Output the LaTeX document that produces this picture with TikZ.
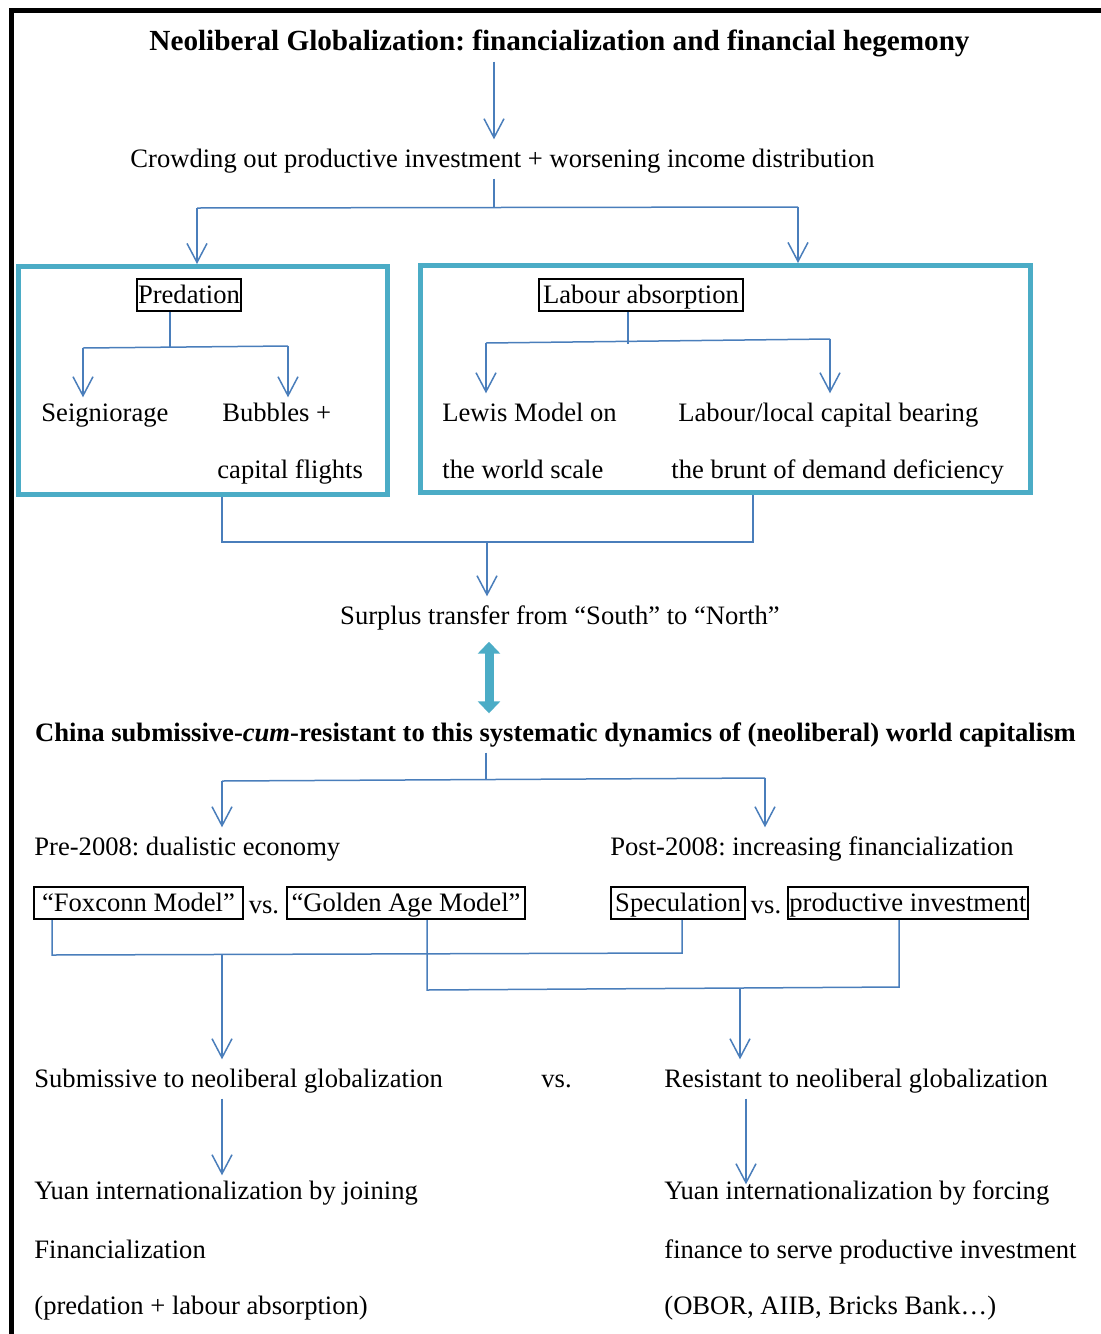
\documentclass[tikz,border=0pt]{standalone}
\usepackage{fontspec}
\setmainfont{Liberation Serif}
\usetikzlibrary{arrows.meta}
\definecolor{linkblue}{HTML}{4A7EBB}
\definecolor{boxcyan}{HTML}{4BACC6}
\newcommand{\diagfont}{\fontsize{13.3}{16}\selectfont}
\frenchspacing

\begin{document}
\begin{tikzpicture}[x=0.5pt, y=-0.5pt,
    every node/.style={font=\diagfont, text height=11pt, text depth=2.3pt, inner xsep=0pt, inner ysep=3pt},
    ltxt/.style={anchor=west},
    boldtxt/.style={font=\diagfont\bfseries},
    tbox/.style={draw, line width=1pt, inner ysep=0pt, minimum height=16pt},
    panel/.style={draw=boxcyan, line width=2.5pt, inner sep=0pt},
    link/.style={draw=linkblue, line width=0.75pt},
    arr/.style={link, ->, >={Straight Barb[length=9.5pt,width=10pt]}},
    dblarr/.style={draw=boxcyan, line width=4.5pt, <->, >={Triangle[length=6pt,width=11pt]}},
    outerframe/.style={line width=2.5pt}]
\useasboundingbox (0,0) rectangle (1101,1334);
\draw[outerframe] (11.5,1345) -- (11.5,10.5) -- (1115,10.5);

% top part
\node[boldtxt, font=\fontsize{14.6}{17}\selectfont\bfseries] (title) at (559.5,42) {Neoliberal Globalization: financialization and financial hegemony};
\node (crowd) at (502.5,159) {Crowding out productive investment + worsening income distribution};

% the two panels
\node[panel, minimum width=184.25pt, minimum height=114pt] (predpanel) at (202.75,380.5) {};
\node[panel, minimum width=305pt, minimum height=113.5pt] (labpanel) at (725,379) {};
\node[tbox, minimum width=52pt] (predbox) at (189,295) {Predation};
\node[tbox, minimum width=102pt] (labbox) at (641,295) {Labour absorption};
\node[ltxt] (seign) at (41,413) {Seigniorage};
\node[ltxt] (bubbles) at (222,413) {Bubbles +};
\node[ltxt] (capfl) at (217,470) {capital flights};
\node[ltxt] (lewis) at (442,413) {Lewis Model on};
\node[ltxt] (worldsc) at (442,470) {the world scale};
\node[ltxt] (labloc) at (678,413) {Labour/local capital bearing};
\node[ltxt] (brunt) at (671,470) {the brunt of demand deficiency};

% middle
\node (surplus) at (560,616) {Surplus transfer from “South” to “North”};
\node[boldtxt] (china) at (555.5,733) {China submissive-\textit{cum}-resistant to this systematic dynamics of (neoliberal) world capitalism};

% China, two periods
\node[ltxt] (pre) at (34,847) {Pre-2008: dualistic economy};
\node[ltxt] (post) at (610,847) {Post-2008: increasing financialization};
\node[tbox, minimum width=104.5pt] (foxbox) at (138.5,903) {“Foxconn Model”};
\node (vsa) at (264,905) {vs.};
\node[tbox, minimum width=119pt] (goldbox) at (406,903) {“Golden Age Model”};
\node[tbox, minimum width=67pt] (specbox) at (678,903) {Speculation};
\node (vsb) at (766,905) {vs.};
\node[tbox, minimum width=120pt] (prodbox) at (908,903) {productive investment};

% bottom
\node[ltxt] (subm) at (34,1079) {Submissive to neoliberal globalization};
\node[ltxt] (vsc) at (541,1079) {vs.};
\node[ltxt] (resist) at (664,1079) {Resistant to neoliberal globalization};
\node[ltxt] (yuanj) at (34,1191) {Yuan internationalization by joining};
\node[ltxt] (finz) at (34,1250) {Financialization};
\node[ltxt] (predlab) at (34,1306) {(predation + labour absorption)};
\node[ltxt] (yuanf) at (664,1191) {Yuan internationalization by forcing};
\node[ltxt] (finserve) at (664,1250) {finance to serve productive investment};
\node[ltxt] (obor) at (664,1306) {(OBOR, AIIB, Bricks Bank…)};

% forks and joins
\coordinate (fk1) at (494,208);
\coordinate (fk1l) at (197,208);
\coordinate (fk1r) at (798,207);
\draw[arr] (title.south -| fk1) -- (crowd.north -| fk1);
\draw[link] (crowd.south -| fk1) -- (fk1);
\draw[link] (fk1l) -- (fk1r);
\draw[arr] (fk1l) -- (predpanel.north -| fk1l);
\draw[arr] (fk1r) -- (labpanel.north -| fk1r);

\coordinate (fk2) at (170,347);
\coordinate (fk2l) at (83,348);
\coordinate (fk2r) at (288,346);
\draw[link] (predbox.south -| fk2) -- (fk2);
\draw[link] (fk2l) -- (fk2r);
\draw[arr, shorten >=-2pt] (fk2l) -- (seign.north -| fk2l);
\draw[arr, shorten >=-2pt] (fk2r) -- (bubbles.north -| fk2r);

\coordinate (fk3) at (628,344);
\coordinate (fk3l) at (486,343);
\coordinate (fk3r) at (830,339);
\draw[link] (labbox.south -| fk3) -- (fk3);
\draw[link] (fk3l) -- (fk3r);
\draw[arr] (fk3l) -- (lewis.north -| fk3l);
\draw[arr] (fk3r) -- (labloc.north -| fk3r);

\coordinate (jn1l) at (222,542);
\coordinate (jn1r) at (753,542);
\coordinate (jn1) at (487,542);
\draw[link] (predpanel.south -| jn1l) -- (jn1l) -- (jn1r) -- (labpanel.south -| jn1r);
\draw[arr] (jn1) -- (surplus.north -| jn1);

\coordinate (dbl) at (489,0);
\draw[dblarr, shorten <=3pt] (surplus.south -| dbl) -- (china.north -| dbl);

\coordinate (fk4) at (486,780);
\coordinate (fk4l) at (222,781);
\coordinate (fk4r) at (765,778);
\draw[link] (china.south -| fk4) -- (fk4);
\draw[link] (fk4l) -- (fk4r);
\draw[arr] (fk4l) -- (pre.north -| fk4l);
\draw[arr] (fk4r) -- (post.north -| fk4r);

\coordinate (jn2l) at (52,955);
\coordinate (jn2r) at (682,953);
\coordinate (jn2) at (222,955);
\draw[link] (foxbox.south -| jn2l) -- (jn2l) -- (jn2r) -- (specbox.south -| jn2r);
\draw[arr] (jn2) -- (subm.north -| jn2);

\coordinate (jn3l) at (427,990);
\coordinate (jn3r) at (899,987);
\coordinate (jn3) at (740,988);
\draw[link] (goldbox.south -| jn3l) -- (jn3l) -- (jn3r) -- (prodbox.south -| jn3r);
\draw[arr] (jn3) -- (resist.north -| jn3);

\coordinate (colL) at (222,0);
\coordinate (colR) at (746,0);
\draw[arr, shorten >=-2pt] (subm.south -| colL) -- (yuanj.north -| colL);
\draw[arr, shorten >=-6.5pt] (resist.south -| colR) -- (yuanf.north -| colR);
\end{tikzpicture}
\end{document}
